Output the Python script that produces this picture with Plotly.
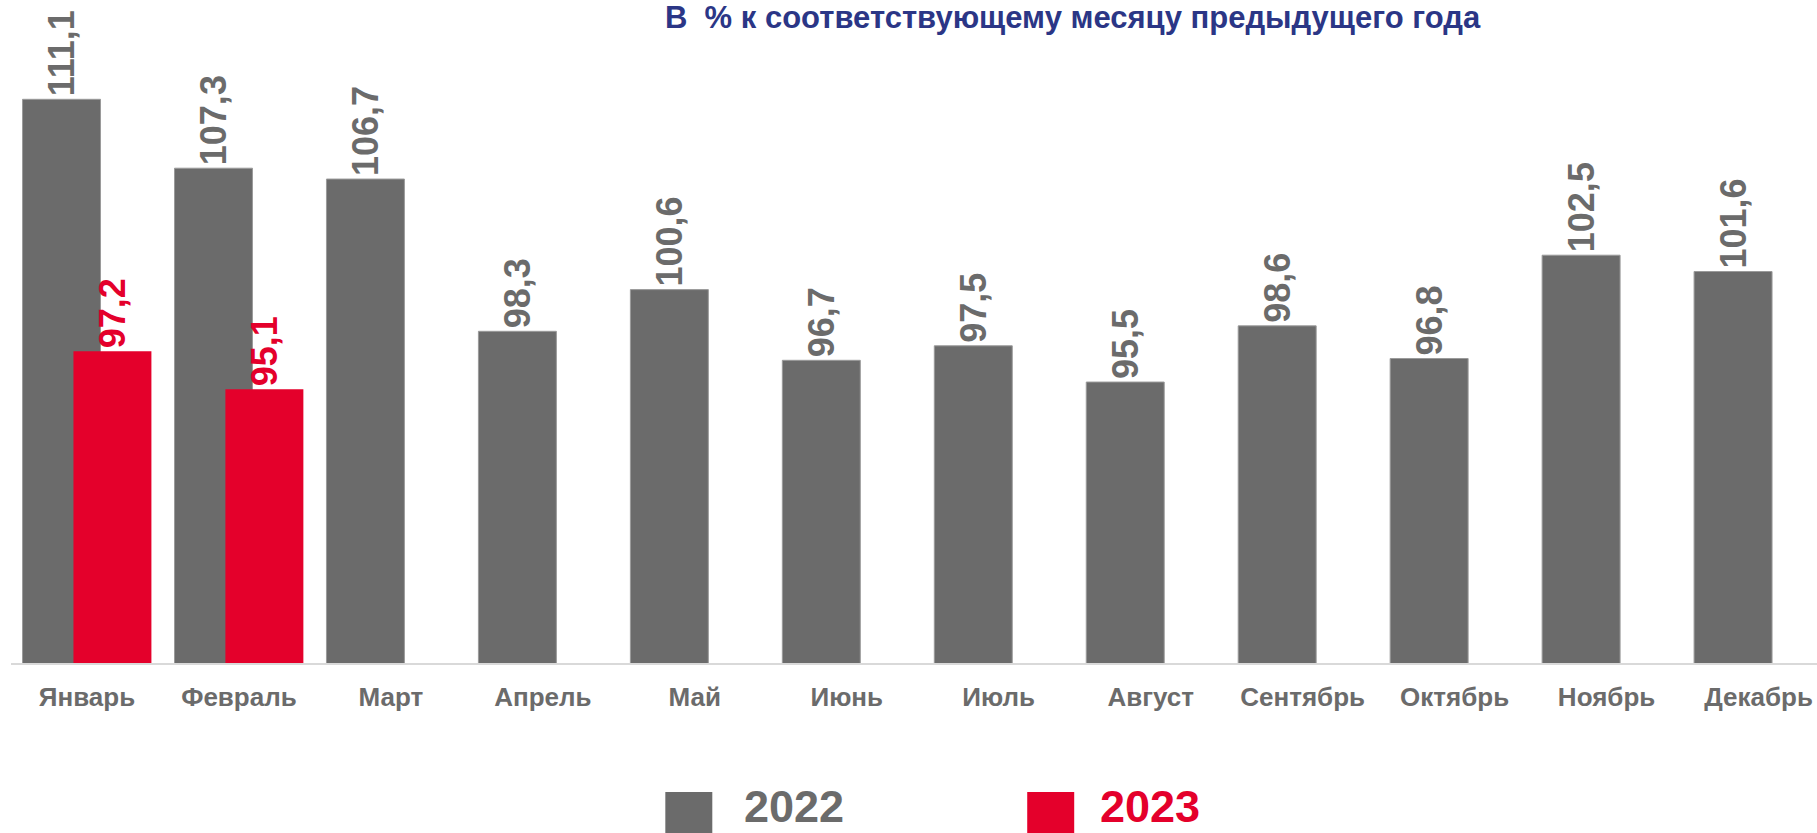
import plotly.graph_objects as go

months = ["Январь", "Февраль", "Март", "Апрель", "Май", "Июнь", "Июль",
          "Август", "Сентябрь", "Октябрь", "Ноябрь", "Декабрь"]
values_2022 = [111.1, 107.3, 106.7, 98.3, 100.6, 96.7, 97.5, 95.5, 98.6, 96.8, 102.5, 101.6]
values_2023 = [97.2, 95.1]
series_names = ["2022", "2023"]
title_text = "В  % к соответствующему месяцу предыдущего года"

GRAY = "#6b6b6b"
RED = "#e4002b"
NAVY = "#2b3686"
FONT = "Liberation Sans, Arial, sans-serif"

W, H = 1817, 833
ML, MR, MT = 10.5, 0, 0
BASE = 663          # axis baseline in px
MB = H - BASE
PW = W - ML - MR
PH = BASE - MT

def fmt(v):
    return f"{v:.1f}".replace(".", ",")

bar_w = 0.513
fig = go.Figure()
fig.add_trace(go.Bar(
    x=months, y=values_2022, name=series_names[0],
    width=bar_w, offset=-0.424,
    marker=dict(color=GRAY, line=dict(color="#9a9a9a", width=1)),
    text=[fmt(v) for v in values_2022], textposition="outside", textangle=-90,
    textfont=dict(family=FONT, size=36, color=GRAY, weight="bold"),
    constraintext="none", cliponaxis=False,
))
fig.add_trace(go.Bar(
    x=months[:len(values_2023)], y=values_2023, name=series_names[1],
    width=bar_w, offset=-0.089,
    marker=dict(color=RED, line=dict(color=RED, width=0)),
    text=[fmt(v) for v in values_2023], textposition="outside", textangle=-90,
    textfont=dict(family=FONT, size=36, color=RED, weight="bold"),
    constraintext="none", cliponaxis=False,
))

ppu = 152.0
fig.update_layout(
    width=W, height=H, barmode="overlay",
    margin=dict(l=ML, r=MR, t=MT, b=MB, pad=0),
    paper_bgcolor="white", plot_bgcolor="white",
    showlegend=False,
    xaxis=dict(range=[-0.5, -0.5 + PW / ppu], showline=True, linecolor="#d9d9d9",
               linewidth=2, showgrid=False, zeroline=False, ticks="",
               tickfont=dict(family=FONT, size=26, color=GRAY, weight="bold"),
               ticklabelstandoff=10, fixedrange=True),
    yaxis=dict(range=[80, 80 + PH / 18.125], visible=False, showgrid=False,
               zeroline=False, fixedrange=True),
)

def px_x(p):
    return (p - ML) / PW

def px_y(p):
    return (BASE - p) / PH

fig.add_annotation(text=title_text, xref="paper", yref="paper",
                   x=px_x(1073), y=px_y(17), xanchor="center", yanchor="middle",
                   showarrow=False,
                   font=dict(family=FONT, size=31, color=NAVY, weight="bold"))

# legend drawn manually
legend_items = [(series_names[0], GRAY, 665, 743), (series_names[1], RED, 1027, 1099)]
for name, col, sx, tx in legend_items:
    fig.add_shape(type="rect", xref="paper", yref="paper",
                  x0=px_x(sx), x1=px_x(sx + 47), y0=px_y(792), y1=px_y(845),
                  fillcolor=col, line=dict(width=0), layer="above")
    fig.add_annotation(text=name, xref="paper", yref="paper",
                       x=px_x(tx), y=px_y(806), xanchor="left", yanchor="middle",
                       showarrow=False, borderpad=0,
                       font=dict(family=FONT, size=45, color=col, weight="bold"))

fig.write_html("out.html", config={"displayModeBar": False},
               post_script="document.body.style.margin='0';document.body.style.overflow='hidden';")
